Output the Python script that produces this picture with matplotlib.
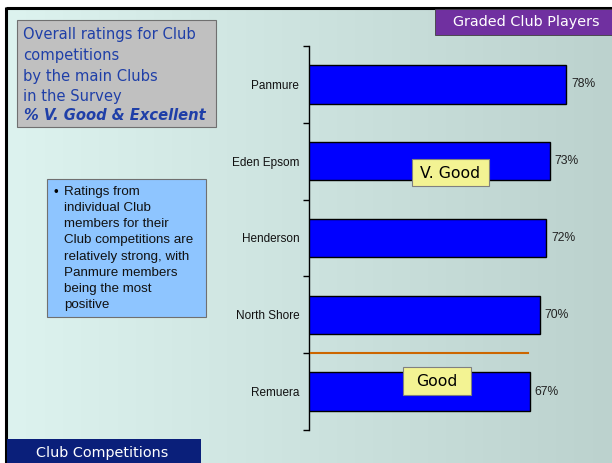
import numpy as np
import matplotlib
matplotlib.use("Agg")
import matplotlib.pyplot as plt
from matplotlib.patches import Rectangle

categories = ["Panmure", "Eden Epsom", "Henderson", "North Shore", "Remuera"]
values = [78, 73, 72, 70, 67]
value_labels = ["78%", "73%", "72%", "70%", "67%"]

title_lines = ["Overall ratings for Club", "competitions", "by the main Clubs", "in the Survey"]
title_sub = "% V. Good & Excellent"
note_text = ("Ratings from\nindividual Club\nmembers for their\nClub competitions are\n"
             "relatively strong, with\nPanmure members\nbeing the most\npositive")
header_text = "Graded Club Players"
footer_text = "Club Competitions"
band_labels = ["V. Good", "Good"]

W, H = 612, 463
fig = plt.figure(figsize=(W / 100, H / 100), dpi=100)
fig.patch.set_facecolor("white")

# background layer in pixel coordinates
bg = fig.add_axes([0, 0, 1, 1])
bg.set_xlim(0, W)
bg.set_ylim(H, 0)
bg.axis("off")
c1 = np.array([0xDD, 0xF3, 0xEF]) / 255
c2 = np.array([0xBC, 0xD2, 0xCE]) / 255
t = np.linspace(0, 1, 256)[None, :, None]
grad = c1 * (1 - t) + c2 * t
bg.imshow(grad, extent=[7, W, H, 9], aspect="auto", zorder=0)
bg.plot([6, W], [8, 8], color="black", lw=2.2, solid_capstyle="butt", zorder=2)
bg.plot([6, 6], [7, H], color="black", lw=2.2, solid_capstyle="butt", zorder=2)

# title box
bg.add_patch(Rectangle((17, 20), 199, 107, facecolor="#C0C0C0", edgecolor="#707070", lw=0.8, zorder=3))
tfont = dict(family="DejaVu Sans", fontsize=10.6, color="#1F3FA8")
for i, line in enumerate(title_lines):
    bg.text(23, 35 + i * 20.5, line, va="center", ha="left", zorder=4, **tfont)
bg.text(24, 115, title_sub, va="center", ha="left", zorder=4, fontweight="bold",
        fontstyle="italic", **tfont)

# header box
bg.add_patch(Rectangle((435, 9), W - 435, 26, facecolor="#7030A0", edgecolor="#404040", lw=0.6, zorder=3))
bg.text(526, 22, header_text, color="white", fontsize=10.4, family="DejaVu Sans",
        va="center", ha="center", zorder=4)

# footer box
bg.add_patch(Rectangle((7, 439), 194, 26, facecolor="#0A1F7A", edgecolor="none", zorder=3))
bg.text(102, 453, footer_text, color="white", fontsize=10.4, family="DejaVu Sans",
        va="center", ha="center", zorder=4)

# note box
bg.add_patch(Rectangle((47, 179), 159, 138, facecolor="#8EC5FF", edgecolor="#707070", lw=0.8, zorder=3))
bg.text(53, 193, "\u2022", fontsize=9.6, family="Liberation Sans", va="center", ha="left", zorder=4)
bg.text(64, 186, note_text, fontsize=9.6, family="Liberation Sans", va="top", ha="left",
        linespacing=1.46, zorder=4, color="#111111")

# bar chart
ax = fig.add_axes([309 / W, (H - 430) / H, 291 / W, 384 / H])
ax.patch.set_alpha(0)
xmax = 291 / (257 / 78)
ax.set_xlim(0, xmax)
ax.set_ylim(len(categories) - 0.5, -0.5)
y = np.arange(len(categories))
ax.barh(y, values, height=0.5, color="#0000FF", edgecolor="black", linewidth=1.0, zorder=3)
for yi, v, lab in zip(y, values, value_labels):
    ax.text(v + 1.5, yi, lab, va="center", ha="left", fontsize=8.7, family="Liberation Sans", color="#222222")
ax.set_yticks(y)
ax.set_yticklabels(categories, fontsize=8.5, family="Liberation Sans", color="#111111")
ax.tick_params(axis="y", which="major", length=0, pad=7)
ax.set_yticks(np.arange(-0.5, len(categories)), minor=True)
ax.tick_params(axis="y", which="minor", length=4, width=1, direction="out")
ax.set_xticks([])
for s in ["top", "right", "bottom"]:
    ax.spines[s].set_visible(False)
ax.spines["left"].set_linewidth(1.0)

# threshold line between North Shore and Remuera
ax.plot([0.5, 66.5], [3.5, 3.5], color="#CC6600", lw=1.5, zorder=4)

# overlay layer for band label boxes
fg = fig.add_axes([0, 0, 1, 1])
fg.set_xlim(0, W)
fg.set_ylim(H, 0)
fg.axis("off")
fg.patch.set_alpha(0)
fg.add_patch(Rectangle((412, 159), 77, 27, facecolor="#F3F393", edgecolor="#808080", lw=0.8, zorder=5))
fg.text(450.5, 173, band_labels[0], fontsize=11.3, family="DejaVu Sans", va="center", ha="center", zorder=6)
fg.add_patch(Rectangle((403, 367), 68, 28, facecolor="#F3F393", edgecolor="#808080", lw=0.8, zorder=5))
fg.text(437, 381.5, band_labels[1], fontsize=11.3, family="DejaVu Sans", va="center", ha="center", zorder=6)

fig.savefig("out.png", dpi=100)
